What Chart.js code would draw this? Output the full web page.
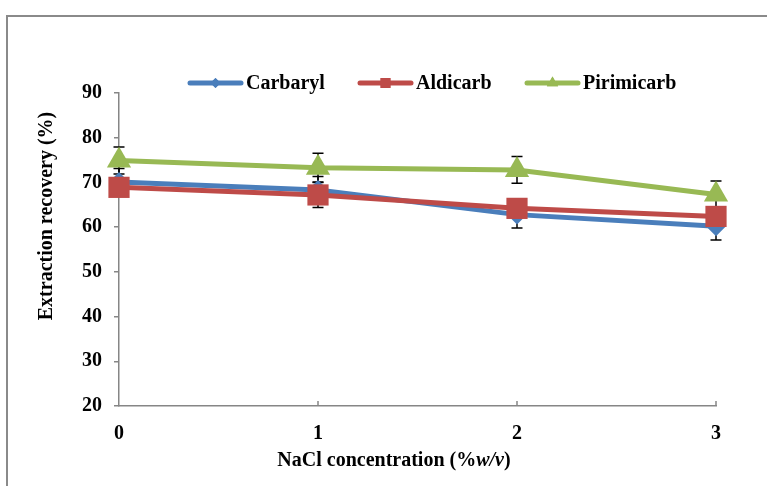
<!DOCTYPE html>
<html>
<head>
<meta charset="utf-8">
<script src="https://cdn.jsdelivr.net/npm/chart.js@4.4.1/dist/chart.umd.min.js"></script>
<style>
    html, body { margin: 0; padding: 0; background: #fff; overflow: hidden; }
    #frame {
        position: absolute; left: 6px; top: 15px;
        width: 800px; height: 520px;
        border-left: 2px solid #8a8a8a; border-top: 2px solid #8a8a8a;
    }
    #wrap { position: absolute; left: 0; top: 0; width: 767px; height: 486px; }
</style>
</head>
<body>
<div id="frame"></div>
<div id="wrap"><canvas id="chart" width="767" height="486"></canvas></div>
<script>
'use strict';

/* ── Données ── */
var NACL = ['0', '1', '2', '3'];
var CARBARYL = [70.1, 68.3, 62.8, 60.2];
var ALDICARB = [68.9, 67.2, 64.2, 62.4];
var PIRIMICARB = [74.9, 73.3, 72.8, 67.3];
var ERR_CARBARYL = [3, 3, 3, 3.1];
var ERR_ALDICARB = [2, 2.8, 2, 2];
var ERR_PIRIMICARB = [3, 3.2, 3, 3];
var Y_MIN = 20, Y_MAX = 90, Y_STEP = 10;

var SERIES = [
    { label: 'Carbaryl',   data: CARBARYL,   err: ERR_CARBARYL,   color: '#4a7ebb', style: 'rectRot',  r: 10,  lr: 5 },
    { label: 'Aldicarb',   data: ALDICARB,   err: ERR_ALDICARB,   color: '#be4b48', style: 'rect',     r: 15,  lr: 7 },
    { label: 'Pirimicarb', data: PIRIMICARB, err: ERR_PIRIMICARB, color: '#98b954', style: 'triangle', r: 14,  lr: 6.5 }
];

var FONT = '"Liberation Serif", "Times New Roman", serif';

/* ── Barres d'erreur (derrière les marqueurs) ── */
var errorBars = {
    id: 'errorBars',
    beforeDatasetsDraw: function (chart) {
        var ctx = chart.ctx, y = chart.scales.y, x = chart.scales.x;
        ctx.save();
        ctx.strokeStyle = '#000';
        ctx.lineWidth = 1.5;
        SERIES.forEach(function (s) {
            s.data.forEach(function (v, i) {
                var px = x.getPixelForValue(i);
                var top = y.getPixelForValue(v + s.err[i]);
                var bot = y.getPixelForValue(v - s.err[i]);
                ctx.beginPath();
                ctx.moveTo(px, top); ctx.lineTo(px, bot);
                ctx.moveTo(px - 5.5, top); ctx.lineTo(px + 5.5, top);
                ctx.moveTo(px - 5.5, bot); ctx.lineTo(px + 5.5, bot);
                ctx.stroke();
            });
        });
        ctx.restore();
    }
};

/* ── Graduations X vers l'intérieur, titres d'axes, légende ── */
var decor = {
    id: 'decor',
    afterDraw: function (chart) {
        var ctx = chart.ctx, x = chart.scales.x, area = chart.chartArea;
        ctx.save();

        ctx.strokeStyle = '#868686';
        ctx.lineWidth = 1.5;
        NACL.forEach(function (c, i) {
            if (i === 0) { return; }
            var px = x.getPixelForValue(i);
            ctx.beginPath();
            ctx.moveTo(px, area.bottom);
            ctx.lineTo(px, area.bottom - 5);
            ctx.stroke();
        });

        ctx.fillStyle = '#000';
        ctx.textBaseline = 'middle';

        /* titre Y */
        ctx.save();
        ctx.translate(47, 216);
        ctx.rotate(-Math.PI / 2);
        ctx.textAlign = 'center';
        ctx.font = 'bold 20px ' + FONT;
        ctx.fillText('Extraction recovery (%)', 0, 0);
        ctx.restore();

        /* titre X avec w/v en italique */
        var parts = [
            { t: 'NaCl concentration (%', f: 'bold 20px ' + FONT },
            { t: 'w/v', f: 'italic bold 20px ' + FONT },
            { t: ')', f: 'bold 20px ' + FONT }
        ];
        var total = 0;
        parts.forEach(function (p) { ctx.font = p.f; p.w = ctx.measureText(p.t).width; total += p.w; });
        var cx = 394 - total / 2;
        ctx.textAlign = 'left';
        parts.forEach(function (p) { ctx.font = p.f; ctx.fillText(p.t, cx, 461); cx += p.w; });

        /* légende */
        var legX = [190, 360, 527];
        var legY = 83;
        SERIES.forEach(function (s, i) {
            var x0 = legX[i], x1 = x0 + 51;
            ctx.strokeStyle = s.color;
            ctx.lineWidth = 5;
            ctx.lineCap = 'round';
            ctx.beginPath();
            ctx.moveTo(x0, legY); ctx.lineTo(x1, legY);
            ctx.stroke();
            ctx.fillStyle = s.color;
            Chart.helpers.drawPoint(ctx, { pointStyle: s.style, radius: s.lr, rotation: 0, borderWidth: 0 }, (x0 + x1) / 2, legY);
            ctx.fill();
            ctx.fillStyle = '#000';
            ctx.font = 'bold 20px ' + FONT;
            ctx.textAlign = 'left';
            ctx.fillText(s.label, x1 + 5, legY + 1);
        });

        ctx.restore();
    }
};

var datasets = SERIES.map(function (s, i) {
    return {
        label: s.label,
        data: s.data,
        borderColor: s.color,
        backgroundColor: s.color,
        borderWidth: 5,
        pointStyle: s.style,
        pointRadius: s.r,
        pointBorderWidth: 0,
        pointBackgroundColor: s.color,
        tension: 0,
        clip: false,
        order: SERIES.length - i
    };
});

new Chart(document.getElementById('chart'), {
    type: 'line',
    data: { labels: NACL, datasets: datasets },
    options: {
        responsive: false,
        animation: false,
        layout: { padding: { top: 93, right: 51, bottom: 0, left: 0 } },
        scales: {
            x: {
                offset: false,
                grid: { display: false },
                border: { display: true, color: '#868686', width: 1.5 },
                ticks: { color: '#000', padding: 8, font: { family: FONT, size: 20, weight: 'bold' } },
                afterFit: function (s) { s.height = 80; }
            },
            y: {
                min: Y_MIN,
                max: Y_MAX,
                grid: { drawOnChartArea: false, drawTicks: true, tickLength: 5, color: '#868686', lineWidth: 1.5 },
                border: { display: true, color: '#868686', width: 1.5 },
                ticks: { stepSize: Y_STEP, color: '#000', padding: 12, font: { family: FONT, size: 20, weight: 'bold' } },
                afterFit: function (s) { s.width = 119; }
            }
        },
        plugins: {
            legend: { display: false },
            tooltip: { enabled: false }
        }
    },
    plugins: [errorBars, decor]
});
</script>
</body>
</html>
